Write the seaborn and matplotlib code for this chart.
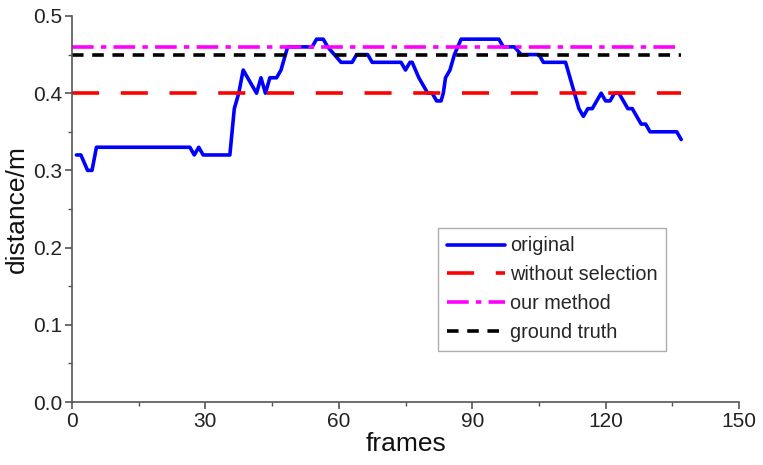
import matplotlib
matplotlib.use("Agg")
import matplotlib.pyplot as plt
import seaborn as sns
import pandas as pd
from matplotlib.ticker import MultipleLocator

frames = [1, 2, 3.5, 4.5, 5.5, 26.5, 27.5, 28.5, 29.5, 35.5, 36.5, 37.5, 38.5,
          41.5, 42.5, 43.5, 44.5, 46, 47, 48.5, 54, 55, 56.5, 57.5, 59, 60.5,
          63, 64, 66.5, 67.5, 74, 75, 76, 76.5, 78, 79, 80, 81, 82, 83, 83.5,
          84, 85, 86, 87.5, 96, 97, 99.5, 101, 105, 106, 111, 113, 114, 115,
          116, 117, 118, 119, 120, 121, 122, 123, 124, 125, 126, 127, 128,
          129, 130, 136, 137]
original = [0.32, 0.32, 0.30, 0.30, 0.33, 0.33, 0.32, 0.33, 0.32, 0.32, 0.38,
            0.40, 0.43, 0.40, 0.42, 0.40, 0.42, 0.42, 0.43, 0.46, 0.46, 0.47,
            0.47, 0.46, 0.45, 0.44, 0.44, 0.45, 0.45, 0.44, 0.44, 0.43, 0.44,
            0.44, 0.42, 0.41, 0.40, 0.40, 0.39, 0.39, 0.40, 0.42, 0.43, 0.45,
            0.47, 0.47, 0.46, 0.46, 0.45, 0.45, 0.44, 0.44, 0.40, 0.38, 0.37,
            0.38, 0.38, 0.39, 0.40, 0.39, 0.39, 0.40, 0.40, 0.39, 0.38, 0.38,
            0.37, 0.36, 0.36, 0.35, 0.35, 0.34]
line_span = [0, 137]
without_selection = 0.40
our_method = 0.46
ground_truth = 0.45

sns.set_style("ticks")
plt.rcParams['font.family'] = ['Liberation Sans', 'DejaVu Sans']

fig = plt.figure(figsize=(7.63, 4.65), dpi=100)
ax = fig.add_axes([72/763, 1 - 402/465, (739-72)/763, (402-16)/465])

df = pd.DataFrame({"frames": frames, "distance": original})
sns.lineplot(data=df, x="frames", y="distance", ax=ax, color="#0000ff",
             lw=2.6, label="original", sort=False)
sns.lineplot(x=line_span, y=[without_selection]*2, ax=ax, color="#ff0000",
             lw=2.6, label="without selection")
ax.lines[-1].set_dashes([7.5, 6])
sns.lineplot(x=line_span, y=[our_method]*2, ax=ax, color="#ff00ff",
             lw=2.6, label="our method")
ax.lines[-1].set_dashes([6, 2, 1.5, 2])
sns.lineplot(x=line_span, y=[ground_truth]*2, ax=ax, color="#000000",
             lw=2.6, label="ground truth")
ax.lines[-1].set_dashes([3.2, 2.4])

ax.set_xlim(0, 150)
ax.set_ylim(0, 0.5)
ax.xaxis.set_major_locator(MultipleLocator(30))
ax.xaxis.set_minor_locator(MultipleLocator(15))
ax.yaxis.set_major_locator(MultipleLocator(0.1))
ax.yaxis.set_minor_locator(MultipleLocator(0.05))
ax.yaxis.set_major_formatter(matplotlib.ticker.FormatStrFormatter('%.1f'))

for s in ["top", "right"]:
    ax.spines[s].set_visible(False)
for s in ["left", "bottom"]:
    ax.spines[s].set_color("#555555")
    ax.spines[s].set_linewidth(1.2)
ax.tick_params(which="major", direction="out", length=5, width=1.2,
               color="#555555", labelsize=15, labelcolor="#222222", pad=2)
ax.tick_params(which="minor", direction="out", length=3, width=1.0,
               color="#555555")

ax.set_xlabel("frames", fontsize=19, color="#111111", labelpad=1)
ax.set_ylabel("distance/m", fontsize=19, color="#111111", labelpad=3)

leg = ax.legend(loc="upper left", bbox_to_anchor=(0.549, 0.452), fontsize=14.3,
                frameon=True, fancybox=False, edgecolor="#999999",
                handlelength=2.9, handletextpad=0.25, labelspacing=0.5,
                borderpad=0.45, borderaxespad=0)
leg.get_frame().set_linewidth(1.0)

fig.savefig("out.png", dpi=100)
